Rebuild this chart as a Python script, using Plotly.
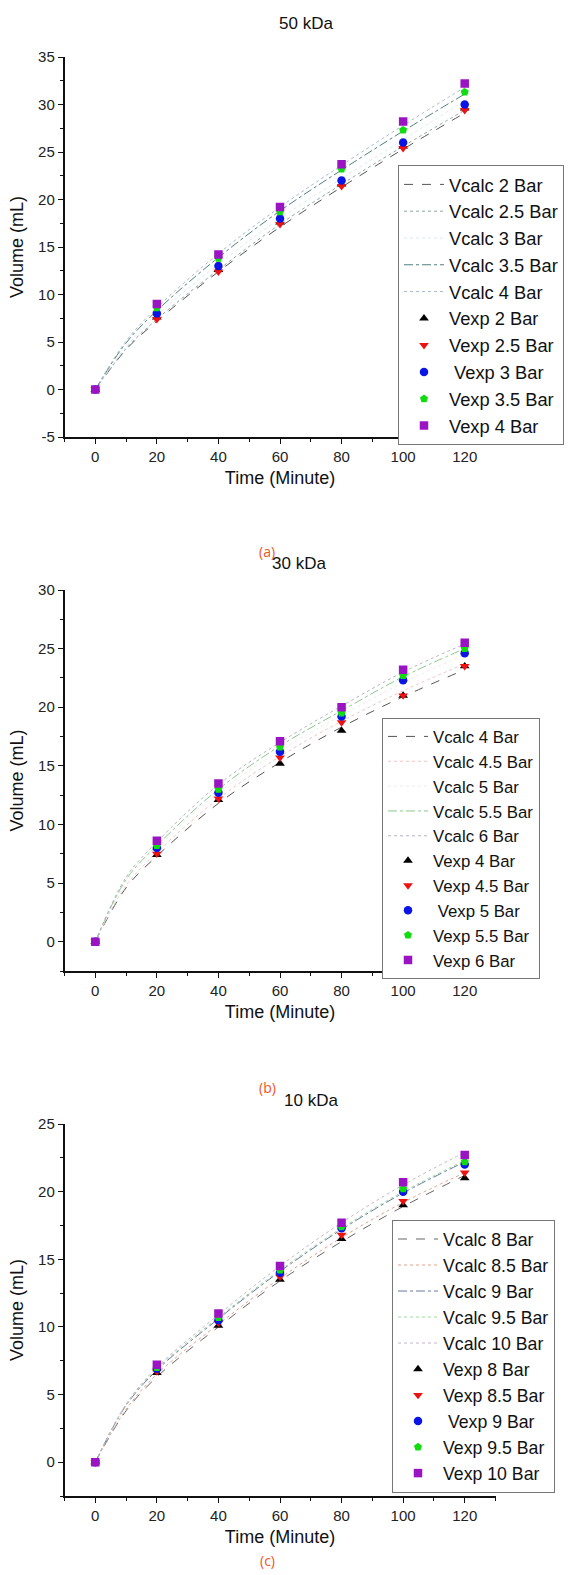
import plotly.graph_objects as go

# ---------------- data ----------------
time_exp = [0, 20, 40, 60, 80, 100, 120]
time_calc = [0, 10, 20, 40, 60, 80, 100, 120]
x_ticks = [0, 20, 40, 60, 80, 100, 120]

# Panel (a) 50 kDa
a_title = "50 kDa"
a_pressures = ["2", "2.5", "3", "3.5", "4"]
a_exp_2 = [0, 7.6, 12.6, 17.6, 21.6, 25.6, 29.6]
a_exp_25 = [0, 7.4, 12.4, 17.4, 21.4, 25.4, 29.4]
a_exp_3 = [0, 8.0, 13.0, 18.0, 22.0, 26.0, 30.0]
a_exp_35 = [0, 8.6, 13.8, 18.7, 23.2, 27.3, 31.3]
a_exp_4 = [0, 9.0, 14.2, 19.2, 23.7, 28.2, 32.2]
a_calc_2 = [0, 4.2, 7.2, 12.4, 17.1, 21.3, 25.3, 29.1]
a_calc_25 = [0, 4.3, 7.4, 12.6, 17.4, 21.6, 25.6, 29.4]
a_calc_3 = [0, 4.5, 7.8, 13.2, 18.0, 22.2, 26.3, 30.4]
a_calc_35 = [0, 4.9, 8.3, 13.9, 18.8, 23.1, 27.2, 31.1]
a_calc_4 = [0, 5.1, 8.6, 14.3, 19.2, 23.6, 27.8, 31.8]

# Panel (b) 30 kDa
b_title = "30 kDa"
b_pressures = ["4", "4.5", "5", "5.5", "6"]
b_exp_4 = [0, 7.4, 12.1, 15.2, 18.0, 21.0, 23.5]
b_exp_45 = [0, 7.5, 12.2, 15.7, 18.7, 21.0, 23.5]
b_exp_5 = [0, 8.0, 12.7, 16.2, 19.2, 22.3, 24.6]
b_exp_55 = [0, 8.2, 13.0, 16.6, 19.5, 22.7, 25.0]
b_exp_6 = [0, 8.6, 13.5, 17.1, 20.0, 23.2, 25.5]
b_calc_4 = [0, 4.6, 7.3, 11.8, 15.3, 18.3, 20.9, 23.2]
b_calc_45 = [0, 4.8, 7.6, 12.2, 15.8, 18.8, 21.4, 23.7]
b_calc_5 = [0, 5.1, 8.0, 12.7, 16.3, 19.3, 22.1, 24.5]
b_calc_55 = [0, 5.3, 8.2, 13.0, 16.7, 19.7, 22.6, 25.0]
b_calc_6 = [0, 5.5, 8.5, 13.4, 17.0, 20.1, 23.0, 25.4]

# Panel (c) 10 kDa
c_title = "10 kDa"
c_pressures = ["8", "8.5", "9", "9.5", "10"]
c_exp_8 = [0, 6.6, 10.1, 13.5, 16.5, 19.0, 21.0]
c_exp_85 = [0, 6.7, 10.3, 13.7, 16.8, 19.3, 21.4]
c_exp_9 = [0, 6.9, 10.5, 14.0, 17.3, 20.0, 22.0]
c_exp_95 = [0, 7.0, 10.7, 14.2, 17.4, 20.2, 22.2]
c_exp_10 = [0, 7.2, 11.0, 14.5, 17.7, 20.7, 22.7]
c_calc_8 = [0, 3.8, 6.3, 10.0, 13.4, 16.3, 18.9, 21.2]
c_calc_85 = [0, 3.9, 6.5, 10.2, 13.6, 16.6, 19.2, 21.4]
c_calc_9 = [0, 4.2, 6.8, 10.6, 14.1, 17.2, 19.9, 22.2]
c_calc_95 = [0, 4.2, 6.9, 10.7, 14.2, 17.3, 20.0, 22.3]
c_calc_10 = [0, 4.3, 7.0, 10.9, 14.5, 17.7, 20.5, 22.9]

# ---------------- styles ----------------
W, H = 573, 1575
FONT = "Liberation Sans, Arial, sans-serif"
exp_symbols = ["triangle-up", "triangle-down", "circle", "pentagon", "square"]
exp_colors = ["#000000", "#ee1111", "#0a14e6", "#10dd10", "#9a14c4"]

panels = [
    dict(title=a_title, pres=a_pressures,
         exp=[a_exp_2, a_exp_25, a_exp_3, a_exp_35, a_exp_4],
         calc=[a_calc_2, a_calc_25, a_calc_3, a_calc_35, a_calc_4],
         calc_colors=["#555555", "#8fa3a3", "#d5ecec", "#4f8080", "#a8b8cc"],
         calc_dash=["dash", "dot", "dot", "dashdot", "dot"],
         yrange=[-5, 35], ypix=(57, 437), title_x=306, title_y=23,
         leg=(398, 165), leg_font=18.3, label="(a)", label_y=551),
    dict(title=b_title, pres=b_pressures,
         exp=[b_exp_4, b_exp_45, b_exp_5, b_exp_55, b_exp_6],
         calc=[b_calc_4, b_calc_45, b_calc_5, b_calc_55, b_calc_6],
         calc_colors=["#555555", "#f0c4c4", "#ececec", "#8cc88c", "#b4b4c4"],
         calc_dash=["dash", "dot", "dot", "dashdot", "dot"],
         yrange=[-2.5, 30], ypix=(590, 971), title_x=299, title_y=563,
         leg=(382, 718), leg_font=16.8, label="(b)", label_y=1087),
    dict(title=c_title, pres=c_pressures,
         exp=[c_exp_8, c_exp_85, c_exp_9, c_exp_95, c_exp_10],
         calc=[c_calc_8, c_calc_85, c_calc_9, c_calc_95, c_calc_10],
         calc_colors=["#666666", "#e0a090", "#6878a0", "#a0d8a0", "#c4b4cc"],
         calc_dash=["dash", "dot", "dashdot", "dot", "dot"],
         yrange=[-2.5, 25], ypix=(1124, 1496), title_x=311, title_y=1100,
         leg=(392, 1220), leg_font=17.7, label="(c)", label_y=1560),
]

fig = go.Figure()
x_dom = [64.5 / W, 495.5 / W]
layout = dict(
    width=W, height=H, margin=dict(l=0, r=0, t=0, b=0, autoexpand=False),
    paper_bgcolor="white", plot_bgcolor="white",
    font=dict(family=FONT, color="#222222"),
    annotations=[],
)

for i, p in enumerate(panels):
    n = i + 1
    xa = "x" if n == 1 else f"x{n}"
    ya = "y" if n == 1 else f"y{n}"
    leg = "legend" if n == 1 else f"legend{n}"
    for k in range(5):
        fig.add_trace(go.Scatter(
            x=time_calc, y=p["calc"][k], mode="lines",
            line=dict(color=p["calc_colors"][k], width=1, dash=p["calc_dash"][k], shape="spline"),
            name=f"Vcalc {p['pres'][k]} Bar", xaxis=xa, yaxis=ya, legend=leg))
    for k in range(5):
        name = f"Vexp {p['pres'][k]} Bar"
        if k == 2:
            name = "\u00a0" + name
        fig.add_trace(go.Scatter(
            x=time_exp, y=p["exp"][k], mode="markers",
            marker=dict(symbol=exp_symbols[k], color=exp_colors[k], size=8.5,
                        line=dict(width=0)),
            name=name, xaxis=xa, yaxis=ya, legend=leg))

    top, bot = p["ypix"]
    xkey = "xaxis" if n == 1 else f"xaxis{n}"
    ykey = "yaxis" if n == 1 else f"yaxis{n}"
    layout[xkey] = dict(
        domain=x_dom, anchor=ya, range=[-10, 130], tickvals=x_ticks, automargin=False,
        showline=True, linecolor="#111111", linewidth=1.5, showgrid=False, zeroline=False,
        ticks="outside", ticklen=5, tickwidth=1.2, tickcolor="#111111",
        minor=dict(tickvals=[-10, 10, 30, 50, 70, 90, 110, 130], ticks="outside",
                   ticklen=3, tickwidth=1, tickcolor="#111111"),
        tickfont=dict(size=15, color="#222222", family=FONT),
        title=dict(text="Time (Minute)", font=dict(size=18, color="#111111", family=FONT), standoff=8),
    )
    ymin, ymax = p["yrange"]
    yt = [v for v in range(int(ymin), int(ymax) + 1) if v % 5 == 0 and v >= ymin]
    ym = [ymin + 2.5 * j for j in range(int((ymax - ymin) / 2.5) + 1)]
    ym = [v for v in ym if v not in yt]
    layout[ykey] = dict(
        domain=[1 - bot / H, 1 - top / H], anchor=xa, range=[ymin, ymax],
        tickvals=yt, ticktext=[str(v) for v in yt],
        automargin=False,
        showline=True, linecolor="#111111", linewidth=1.5, showgrid=False, zeroline=False,
        ticks="outside", ticklen=5, tickwidth=1.2, tickcolor="#111111",
        minor=dict(tickvals=ym, ticks="outside", ticklen=3, tickwidth=1, tickcolor="#111111"),
        tickfont=dict(size=15, color="#222222", family=FONT),
        title=dict(text="Volume (mL)", font=dict(size=18, color="#111111", family=FONT), standoff=10),
    )
    lx, ly = p["leg"]
    layout[leg] = dict(
        x=lx / W, y=1 - ly / H, xanchor="left", yanchor="top",
        bgcolor="white", bordercolor="#777777", borderwidth=1,
        font=dict(size=p["leg_font"], color="#111111", family=FONT),
        itemwidth=40, tracegroupgap=0, traceorder="normal",
    )
    layout["annotations"].append(dict(
        text=p["title"], x=p["title_x"] / W, y=1 - p["title_y"] / H, xref="paper", yref="paper",
        showarrow=False, xanchor="center", yanchor="middle",
        font=dict(size=17, color="#111111", family=FONT)))
    layout["annotations"].append(dict(
        text=p["label"], x=267 / W, y=1 - p["label_y"] / H, xref="paper", yref="paper",
        showarrow=False, xanchor="center", yanchor="middle",
        font=dict(size=14, color="#f0541e", family="Open Sans, sans-serif")))

fig.update_layout(**layout)
fig.write_html("out.html", config={"displayModeBar": False},
               post_script="document.body.style.margin='0';document.body.style.overflow='hidden';")
